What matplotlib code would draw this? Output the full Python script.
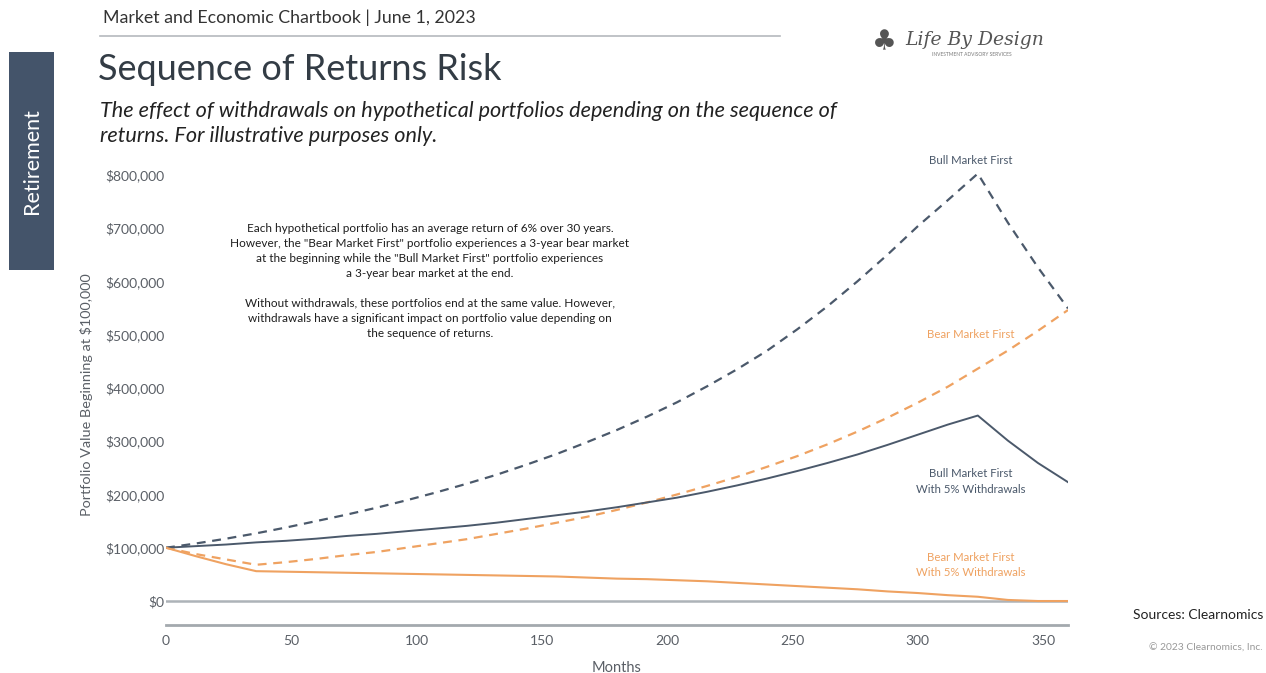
import matplotlib
matplotlib.use("Agg")
import matplotlib.pyplot as plt
from matplotlib.patches import Rectangle
from matplotlib.lines import Line2D
from matplotlib.ticker import FuncFormatter

plt.rcParams['font.family'] = ['Lato', 'DejaVu Sans']

# ---------------- data ----------------
months = [0, 12, 24, 36, 48, 60, 72, 84, 96, 108, 120, 132, 144, 156, 168, 180,
          192, 204, 216, 228, 240, 252, 264, 276, 288, 300, 312, 324, 336, 348, 360]

bull_first = [100, 108, 117, 127, 138, 150, 162, 175, 189, 204, 220, 237, 256, 276, 298, 321,
              346, 373, 403, 435, 470, 510, 553, 600, 650, 703, 752, 802, 710, 626, 549]

bear_first = [100, 88, 78, 68, 73, 79, 86, 92, 100, 108, 116, 126, 136, 147, 158, 171,
              185, 200, 216, 233, 252, 272, 294, 318, 344, 372, 402, 436, 470, 507, 546]

bull_first_wd = [100, 103, 106, 110, 113, 117, 122, 126, 131, 136, 141, 147, 154, 161, 168, 176,
                 185, 194, 205, 217, 230, 244, 259, 275, 293, 312, 331, 348, 301, 259, 223]

bear_first_wd = [100, 84, 69, 56, 55, 54, 53, 52, 51, 50, 49, 48, 47, 46, 44, 42,
                 41, 39, 37, 34, 31, 28, 25, 22, 18, 15, 11, 8, 2, 0, 0]

x_ticks = [0, 50, 100, 150, 200, 250, 300, 350]
y_ticks = [0, 100, 200, 300, 400, 500, 600, 700, 800]   # thousands of dollars

series_labels = ["Bull Market First", "Bear Market First",
                 "Bull Market First\nWith 5% Withdrawals",
                 "Bear Market First\nWith 5% Withdrawals"]

SLATE = '#4B596B'
ORANGE = '#EFA261'
GRAY = '#5a5f66'

W, H = 1266, 673
fig = plt.figure(figsize=(W / 100, H / 100), dpi=100)
fig.patch.set_facecolor('white')


def fx(px):
    return px / W


def fy(py):
    return 1 - py / H


# axes placement
ax_l, ax_r, ax_t, ax_b = 166, 1068, 164, 625
ax = fig.add_axes([fx(ax_l), fy(ax_b), (ax_r - ax_l) / W, (ax_b - ax_t) / H])

k = 1000
ax.plot(months, [v * k for v in bull_first], color=SLATE, lw=1.6, ls=(0, (4, 3)),
        dash_capstyle='butt', zorder=3)
ax.plot(months, [v * k for v in bear_first], color=ORANGE, lw=1.6, ls=(0, (4, 3)),
        dash_capstyle='butt', zorder=3)
ax.plot(months, [v * k for v in bull_first_wd], color=SLATE, lw=1.4, zorder=4)
ax.plot(months, [v * k for v in bear_first_wd], color=ORANGE, lw=1.5, zorder=4)

ax.axhline(0, color='#adb3b8', lw=1.8, zorder=2)

ax.set_xlim(0, 360)
ax.set_ylim(-45000, 820000)
ax.set_xticks(x_ticks)
ax.set_yticks([v * k for v in y_ticks])
ax.yaxis.set_major_formatter(FuncFormatter(lambda v, p: f"${v:,.0f}"))
ax.tick_params(axis='both', length=0, labelsize=10, labelcolor=GRAY)
ax.tick_params(axis='x', pad=7)
ax.tick_params(axis='y', pad=1)

for s in ['top', 'right', 'left']:
    ax.spines[s].set_visible(False)
ax.spines['bottom'].set_color('#a3a9ae')
ax.spines['bottom'].set_linewidth(2.0)

ax.set_xlabel("Months", fontsize=10.5, color=GRAY, labelpad=10)
ax.set_ylabel("Portfolio Value Beginning at $100,000", fontsize=10.4, color=GRAY, labelpad=9)

# series labels
lab_x = 321
ax.text(lab_x, 826000, series_labels[0], color=SLATE, fontsize=8.2, ha='center', va='center', clip_on=False)
ax.text(lab_x, 500000, series_labels[1], color=ORANGE, fontsize=8.2, ha='center', va='center', clip_on=False)
ax.text(lab_x, 224000, series_labels[2], color=SLATE, fontsize=8.2, ha='center', va='center',
        linespacing=1.5, clip_on=False)
ax.text(lab_x, 68000, series_labels[3], color=ORANGE, fontsize=8.2, ha='center', va='center',
        linespacing=1.5, clip_on=False)

# annotation block
note = ('Each hypothetical portfolio has an average return of 6% over 30 years.\n'
        'However, the "Bear Market First" portfolio experiences a 3-year bear market\n'
        'at the beginning while the "Bull Market First" portfolio experiences\n'
        'a 3-year bear market at the end.\n'
        '\n'
        'Without withdrawals, these portfolios end at the same value. However,\n'
        'withdrawals have a significant impact on portfolio value depending on\n'
        'the sequence of returns.')
fig.text(fx(430), fy(281), note, fontsize=8.5, color='#1e1e1e', ha='center', va='center',
         linespacing=1.44)

# header
fig.text(fx(103), fy(18), "Market and Economic Chartbook | June 1, 2023", fontsize=12.8,
         color='#333333', ha='left', va='center')
fig.add_artist(Line2D([fx(100), fx(780)], [fy(36), fy(36)], color='#b5b9bd', lw=1.2))

fig.text(fx(98), fy(70), "Sequence of Returns Risk", fontsize=26, color='#333c45',
         ha='left', va='center')
fig.text(fx(100), fy(111), "The effect of withdrawals on hypothetical portfolios depending on the sequence of",
         fontsize=15.6, style='italic', color='#222222', ha='left', va='center')
fig.text(fx(100), fy(136), "returns. For illustrative purposes only.",
         fontsize=15.6, style='italic', color='#222222', ha='left', va='center')

# side tab
fig.add_artist(Rectangle((fx(9), fy(270)), (54 - 9) / W, (270 - 52) / H,
                         facecolor='#44546A', edgecolor='none'))
fig.text(fx(32), fy(161), "Retirement", rotation=90, color='white', fontsize=15.5,
         ha='center', va='center')

# logo (text stand-in)
fig.text(fx(905), fy(40), "Life By Design", fontsize=13.5, style='italic',
         family=['DejaVu Serif'], color='#555555', ha='left', va='center')
fig.text(fx(972), fy(55), "INVESTMENT ADVISORY SERVICES", fontsize=3.5, color='#777777',
         ha='center', va='center')
fig.text(fx(884), fy(42), "\u2663", fontsize=20, color='#555555', ha='center', va='center',
         family=['DejaVu Sans'])

# sources
fig.text(fx(1263), fy(615), "Sources: Clearnomics", fontsize=10, color='#222222',
         ha='right', va='center')
fig.text(fx(1263), fy(648), "\u00a9 2023 Clearnomics, Inc.", fontsize=7.4, color='#999999',
         ha='right', va='center')

fig.savefig("out.png", dpi=100, facecolor='white')
